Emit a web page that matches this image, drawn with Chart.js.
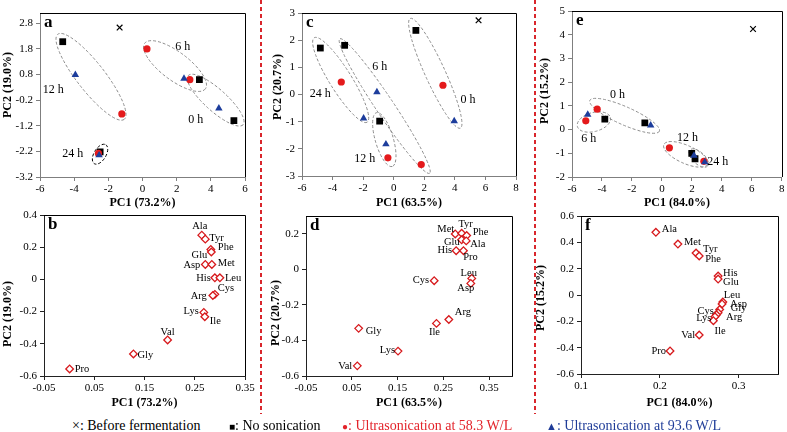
<!DOCTYPE html>
<html>
<head>
<meta charset="utf-8">
<script src="https://cdn.jsdelivr.net/npm/chart.js@4.4.1/dist/chart.umd.min.js"></script>
<style>
  body { margin: 0; width: 787px; height: 432px; position: relative; overflow: hidden; background: #fff; font-family: "Liberation Serif", serif; }
  canvas { position: absolute; }
  .cut { position: absolute; top: 0; width: 1.5px; height: 414px; background: repeating-linear-gradient(to bottom, #d9262c 0 4px, transparent 4px 7px); }
  .key { position: absolute; top: 417px; font-size: 14px; line-height: 18px; white-space: nowrap; }
</style>
</head>
<body>
<canvas id="pa"></canvas>
<canvas id="pc"></canvas>
<canvas id="pe"></canvas>
<canvas id="pb"></canvas>
<canvas id="pd"></canvas>
<canvas id="pf"></canvas>
<div class="cut" style="left:260px"></div>
<div class="cut" style="left:534px"></div>
<div class="key" style="left:72px">×: Before fermentation</div>
<div class="key" style="left:229px"><span style="font-size:10px">■</span>: No sonication</div>
<div class="key" style="left:342px;color:#e3232a"><span style="font-size:10px">●</span>: Ultrasonication at 58.3 W/L</div>
<div class="key" style="left:546px;color:#1f3c98"><span style="font-size:11px">▲</span>: Ultrasonication at 93.6 W/L</div>
<script>
const SERIF = '"Liberation Serif", "Times New Roman", serif'
const RED = '#e41a1c'
const BLUE = '#1d3d9c'
const RING = '#8c8c8c'

// ---- score plots: [PC1, PC2] per sample
// a
const aBefore = [[-1.34, 2.63]]
const aNoSon = [[-4.67, 2.08], [3.33, 0.60], [5.35, -1.0], [-2.48, -2.22]]
const a583 = [[0.26, 1.80], [2.77, 0.60], [-1.21, -0.74], [-2.58, -2.28]]
const a936 = [[-3.93, 0.79], [2.43, 0.64], [4.47, -0.52], [-2.54, -2.35]]
const aTags = ['6 h', '12 h', '0 h', '24 h']
const aTagPos = [[2.35, 1.88], [-5.22, 0.19], [3.12, -0.98], [-4.09, -2.31]]
const aRingFrom = [[0.13, 2.02], [-4.96, 2.37], [2.68, 0.76], [-2.82, -2.68]]
const aRingTo = [[3.68, 0.24], [-1.07, -0.95], [5.89, -1.16], [-2.15, -1.94]]
const aXTicks = [-6, -4, -2, 0, 2, 4, 6]
const aYTicks = [-3.2, -2.2, -1.2, -0.2, 0.8, 1.8, 2.8]

// c
const cBefore = [[5.55, 2.73]]
const cNoSon = [[-4.80, 1.71], [-3.21, 1.81], [1.45, 2.36], [-0.92, -0.98]]
const c583 = [[-3.43, 0.46], [3.22, 0.34], [-0.38, -2.33], [1.80, -2.58]]
const c936 = [[-1.10, 0.09], [-1.97, -0.88], [-0.51, -1.83], [3.96, -0.98]]
const cTags = ['6 h', '24 h', '0 h', '12 h']
const cTagPos = [[-0.92, 1.02], [-4.80, 0.01], [4.86, -0.20], [-1.90, -2.38]]
const cRingFrom = [[-5.20, 2.09], [-3.53, 2.05], [-1.13, -0.67], [1.08, 2.80]]
const cRingTo = [[-1.74, -1.02], [2.35, -2.90], [-0.10, -2.65], [4.36, -1.24]]
const cXTicks = [-6, -4, -2, 0, 2, 4, 6, 8]
const cYTicks = [-3, -2, -1, 0, 1, 2, 3]

// e
const eBefore = [[6.08, 4.24]]
const eNoSon = [[-3.81, 0.44], [-1.14, 0.28], [1.99, -1.0], [2.21, -1.23]]
const e583 = [[-5.08, 0.37], [-4.32, 0.86], [0.50, -0.77], [2.80, -1.34]]
const e936 = [[-4.95, 0.63], [-0.75, 0.18], [2.14, -1.1], [2.86, -1.37]]
const eTags = ['0 h', '6 h', '12 h', '24 h']
const eTagPos = [[-2.97, 1.46], [-4.89, -0.37], [1.70, -0.34], [3.73, -1.36]]
const eRingFrom = [[-4.81, 1.23], [-5.64, 0.13], [0.13, -0.63], [1.87, -0.86]]
const eRingTo = [[-0.17, -0.07], [-3.44, 0.51], [3.04, -1.46], [3.04, -1.54]]
const eXTicks = [-6, -4, -2, 0, 2, 4, 6, 8]
const eYTicks = [-2, -1, 0, 1, 2, 3, 4, 5]

// ---- loading plots: amino acids
const bNames = ['Ala', 'Tyr', 'Phe', 'Glu', 'Asp', 'Met', 'His', 'Leu', 'Cys', 'Arg', 'Lys', 'Ile', 'Val', 'Gly', 'Pro']
const bPC1 = [0.264, 0.271, 0.282, 0.283, 0.271, 0.284, 0.290, 0.300, 0.290, 0.286, 0.268, 0.270, 0.196, 0.128, 0.001]
const bPC2 = [0.275, 0.250, 0.186, 0.170, 0.093, 0.093, 0.010, 0.010, -0.093, -0.100, -0.205, -0.232, -0.376, -0.463, -0.556]

const dNames = ['Met', 'Tyr', 'Phe', 'Glu', 'Ala', 'His', 'Pro', 'Leu', 'Asp', 'Cys', 'Arg', 'Ile', 'Gly', 'Lys', 'Val']
const dPC1 = [0.276, 0.290, 0.301, 0.290, 0.300, 0.278, 0.294, 0.312, 0.310, 0.230, 0.262, 0.235, 0.065, 0.151, 0.062]
const dPC2 = [0.199, 0.203, 0.190, 0.166, 0.160, 0.105, 0.105, -0.051, -0.079, -0.064, -0.282, -0.304, -0.332, -0.460, -0.543]

const fNames = ['Ala', 'Met', 'Tyr', 'Phe', 'His', 'Glu', 'Leu', 'Asp', 'Gly', 'Arg', 'Ile', 'Cys', 'Lys', 'Val', 'Pro']
const fPC1 = [0.195, 0.223, 0.246, 0.250, 0.274, 0.274, 0.280, 0.279, 0.276, 0.274, 0.272, 0.270, 0.268, 0.250, 0.213]
const fPC2 = [0.476, 0.387, 0.319, 0.296, 0.144, 0.121, -0.053, -0.068, -0.110, -0.135, -0.150, -0.165, -0.195, -0.304, -0.425]

const bdXTicks = [-0.05, 0.05, 0.15, 0.25, 0.35]
const bYTicks = [-0.6, -0.4, -0.2, 0, 0.2, 0.4]
const dYTicks = [-0.6, -0.4, -0.2, 0, 0.2]
const fXTicks = [0.1, 0.2, 0.3]
const fYTicks = [-0.6, -0.4, -0.2, 0, 0.2, 0.4, 0.6]

// label placement next to each diamond: [dx, dy, align]
const bPlace = [[-2, -9, 'center'], [4, -1, 'left'], [7, -2, 'left'], [-4, 3, 'right'], [-5, 1, 'right'], [6, -1, 'left'], [-4, 0, 'right'], [5, 0, 'left'], [3, -6, 'left'], [-6, 1, 'right'], [-5, -1, 'right'], [5, 4, 'left'], [0, -8, 'center'], [4, 1, 'left'], [5, 0, 'left']]
const dPlace = [[-1, -5, 'right'], [4, -9, 'center'], [6, -3, 'left'], [-2, 2, 'right'], [4, 3, 'left'], [-4, 0, 'right'], [7, 7, 'center'], [-3, -5, 'center'], [-5, 5, 'center'], [-5, 0, 'right'], [6, -7, 'left'], [-2, 9, 'center'], [7, 3, 'left'], [-3, -1, 'right'], [-5, 0, 'right']]
const fPlace = [[6, -3, 'left'], [6, -2, 'left'], [7, -4, 'left'], [6, 3, 'left'], [5, -3, 'left'], [5, 3, 'left'], [1, -7, 'left'], [8, 0, 'left'], [11, -1, 'left'], [8, 4, 'left'], [-2, 16, 'left'], [-1, -5, 'right'], [-2, -2, 'right'], [-4, 0, 'right'], [-4, 0, 'right']]

const pts = arr => arr.map(p => ({ x: p[0], y: p[1] }))

function scoreSets(before, noSon, s58, s93) {
  return [
    { data: pts(s93), pointStyle: 'triangle', pointRadius: 4.3, backgroundColor: BLUE, borderColor: BLUE, borderWidth: 0 },
    { data: pts(s58), pointStyle: 'circle', pointRadius: 3.6, backgroundColor: RED, borderColor: RED, borderWidth: 0 },
    { data: pts(noSon), pointStyle: 'rect', pointRadius: 4.8, backgroundColor: '#000', borderColor: '#000', borderWidth: 0 },
    { data: pts(before), pointStyle: 'crossRot', pointRadius: 4, borderColor: '#000', borderWidth: 1.2 }
  ]
}

function loadSet(px, py) {
  return [{ data: px.map((v, i) => ({ x: v, y: py[i] })), pointStyle: 'rectRot', pointRadius: 3.8, backgroundColor: '#fff', borderColor: '#d7191c', borderWidth: 1.3 }]
}

const panelDeco = {
  id: 'panelDeco',
  beforeDatasetsDraw(chart, args, o) {
    const { ctx, chartArea: a, scales: { x, y } } = chart
    ctx.save()
    ctx.strokeStyle = '#000'
    ctx.lineWidth = 1
    ctx.beginPath()
    ctx.moveTo(a.left, Math.round(a.top) + 0.5)
    ctx.lineTo(Math.round(a.right) + 0.5, Math.round(a.top) + 0.5)
    ctx.lineTo(Math.round(a.right) + 0.5, a.bottom)
    ctx.stroke()
    if (o.ringFrom) {
      ctx.setLineDash([3, 2])
      o.ringFrom.forEach((f, i) => {
        const t = o.ringTo[i]
        const x1 = x.getPixelForValue(f[0]), y1 = y.getPixelForValue(f[1])
        const x2 = x.getPixelForValue(t[0]), y2 = y.getPixelForValue(t[1])
        ctx.beginPath()
        ctx.strokeStyle = o.ringColor[i]
        ctx.ellipse((x1 + x2) / 2, (y1 + y2) / 2, Math.hypot(x2 - x1, y2 - y1) / 2, o.ringW[i], Math.atan2(y2 - y1, x2 - x1), 0, Math.PI * 2)
        ctx.stroke()
      })
    }
    ctx.restore()
  },
  afterDatasetsDraw(chart, args, o) {
    const { ctx, chartArea: a, scales: { x, y } } = chart
    ctx.save()
    ctx.fillStyle = '#000'
    ctx.textBaseline = 'middle'
    if (o.names) {
      ctx.font = '10.5px ' + SERIF
      o.names.forEach((n, i) => {
        const p = o.place[i]
        ctx.textAlign = p[2]
        ctx.fillText(n, x.getPixelForValue(o.nx[i]) + p[0], y.getPixelForValue(o.ny[i]) + p[1])
      })
    }
    if (o.tags) {
      ctx.font = '12px ' + SERIF
      ctx.textAlign = 'center'
      o.tags.forEach((t, i) => ctx.fillText(t, x.getPixelForValue(o.tagPos[i][0]), y.getPixelForValue(o.tagPos[i][1])))
    }
    // panel letter
    ctx.font = 'bold 17px ' + SERIF
    ctx.textAlign = 'left'
    ctx.textBaseline = 'alphabetic'
    ctx.fillText(o.letter, a.left + 4, a.top + 14)
    // y title
    ctx.font = 'bold 12px ' + SERIF
    ctx.textAlign = 'center'
    ctx.textBaseline = 'middle'
    ctx.translate(o.yTitleX, o.yTitleY)
    ctx.rotate(-Math.PI / 2)
    ctx.fillText(o.yTitle, 0, 0)
    ctx.restore()
  }
}

const fmt = v => String(Math.round(v * 100) / 100)

function panel(id, box, area, cfg) {
  const cv = document.getElementById(id)
  cv.width = box.w
  cv.height = box.h
  cv.style.left = box.x + 'px'
  cv.style.top = box.y + 'px'
  const axis = cfg.axis
  const tickFont = { family: SERIF, size: 11 }
  cfg.deco.yTitleX = cfg.yTitleX - box.x
  cfg.deco.yTitleY = cfg.yTitleY - box.y
  new Chart(cv, {
    type: 'scatter',
    data: { datasets: cfg.sets },
    options: {
      responsive: false,
      animation: false,
      events: [],
      layout: { padding: { left: 0, top: area.t - box.y, right: box.x + box.w - area.r, bottom: 0 } },
      plugins: { legend: { display: false }, tooltip: { enabled: false }, panelDeco: cfg.deco },
      scales: {
        x: {
          type: 'linear', position: 'bottom', min: cfg.x[0], max: cfg.x[1],
          afterBuildTicks: s => { s.ticks = cfg.xTicks.map(v => ({ value: v })) },
          afterFit: s => { s.height = box.y + box.h - area.b },
          grid: { drawOnChartArea: false, tickLength: 4, color: axis },
          border: { color: axis },
          ticks: { font: tickFont, color: '#000', maxRotation: 0, autoSkip: false, padding: 2, callback: fmt },
          title: { display: true, text: cfg.xTitle, color: '#000', font: { family: SERIF, size: 12, weight: 'bold' }, padding: { top: 0, bottom: box.y + box.h - cfg.xTitleY - 7.2 } }
        },
        y: {
          type: 'linear', position: 'left', min: cfg.y[0], max: cfg.y[1],
          afterBuildTicks: s => { s.ticks = cfg.yTicks.map(v => ({ value: v })) },
          afterFit: s => { s.width = area.l - box.x },
          grid: { drawOnChartArea: false, tickLength: 4, color: axis },
          border: { color: axis },
          ticks: { font: tickFont, color: '#000', autoSkip: false, padding: 3, callback: fmt }
        }
      }
    },
    plugins: [panelDeco]
  })
}

const TOP = '#7f7f7f', BOT = '#222'
const ringStyle = { ringColor: [RING, RING, RING, RING], ringW: [14, 14, 11, 6] }

panel('pa', { x: 0, y: 0, w: 258, h: 212 }, { l: 40, r: 245, t: 13, b: 177 }, {
  sets: scoreSets(aBefore, aNoSon, a583, a936), x: [-6, 6], y: [-3.2, 3.2], xTicks: aXTicks, yTicks: aYTicks,
  xTitle: 'PC1 (73.2%)', xTitleY: 203, yTitleX: 8, yTitleY: 85, axis: TOP,
  deco: { letter: 'a', yTitle: 'PC2 (19.0%)', tags: aTags, tagPos: aTagPos, ringFrom: aRingFrom, ringTo: aRingTo, ringColor: [RING, RING, RING, '#000'], ringW: [14, 14, 11, 6] }
})
panel('pc', { x: 264, y: 0, w: 260, h: 212 }, { l: 302, r: 516, t: 13, b: 176 }, {
  sets: scoreSets(cBefore, cNoSon, c583, c936), x: [-6, 8], y: [-3, 3], xTicks: cXTicks, yTicks: cYTicks,
  xTitle: 'PC1 (63.5%)', xTitleY: 203, yTitleX: 278, yTitleY: 87, axis: TOP,
  deco: { letter: 'c', yTitle: 'PC2 (20.7%)', tags: cTags, tagPos: cTagPos, ringFrom: cRingFrom, ringTo: cRingTo, ringColor: ringStyle.ringColor, ringW: [11, 9, 9, 10] }
})
panel('pe', { x: 537, y: 0, w: 250, h: 212 }, { l: 572, r: 786, t: 11, b: 177 }, {
  sets: scoreSets(eBefore, eNoSon, e583, e936), x: [-6, 8], y: [-2, 5], xTicks: eXTicks, yTicks: eYTicks,
  xTitle: 'PC1 (84.0%)', xTitleY: 203, yTitleX: 545, yTitleY: 91, axis: TOP,
  deco: { letter: 'e', yTitle: 'PC2 (15.2%)', tags: eTags, tagPos: eTagPos, ringFrom: eRingFrom, ringTo: eRingTo, ringColor: ringStyle.ringColor, ringW: [9, 9.5, 9, 6] }
})
panel('pb', { x: 0, y: 200, w: 258, h: 212 }, { l: 44, r: 245, t: 215, b: 376 }, {
  sets: loadSet(bPC1, bPC2), x: [-0.05, 0.35], y: [-0.6, 0.4], xTicks: bdXTicks, yTicks: bYTicks,
  xTitle: 'PC1 (73.2%)', xTitleY: 403, yTitleX: 8, yTitleY: 314, axis: BOT,
  deco: { letter: 'b', yTitle: 'PC2 (19.0%)', names: bNames, nx: bPC1, ny: bPC2, place: bPlace }
})
panel('pd', { x: 264, y: 200, w: 260, h: 212 }, { l: 306, r: 512, t: 216, b: 376 }, {
  sets: loadSet(dPC1, dPC2), x: [-0.05, 0.4], y: [-0.6, 0.3], xTicks: bdXTicks, yTicks: dYTicks,
  xTitle: 'PC1 (63.5%)', xTitleY: 403, yTitleX: 276, yTitleY: 313, axis: BOT,
  deco: { letter: 'd', yTitle: 'PC2 (20.7%)', names: dNames, nx: dPC1, ny: dPC2, place: dPlace }
})
panel('pf', { x: 528, y: 200, w: 259, h: 212 }, { l: 581, r: 778, t: 216, b: 374 }, {
  sets: loadSet(fPC1, fPC2), x: [0.1, 0.35], y: [-0.6, 0.6], xTicks: fXTicks, yTicks: fYTicks,
  xTitle: 'PC1 (84.0%)', xTitleY: 403, yTitleX: 541, yTitleY: 298, axis: BOT,
  deco: { letter: 'f', yTitle: 'PC2 (15.2%)', names: fNames, nx: fPC1, ny: fPC2, place: fPlace }
})
</script>
</body>
</html>
